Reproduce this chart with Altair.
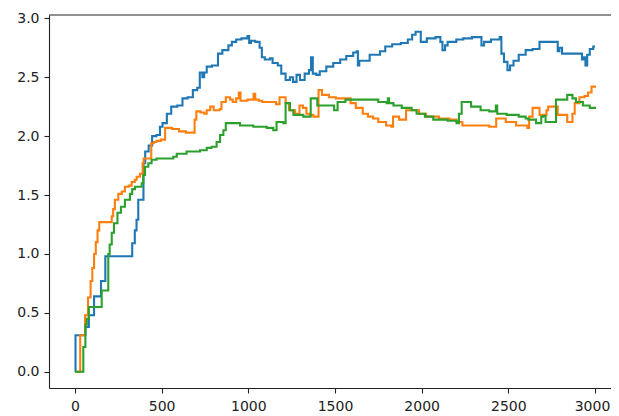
import altair as alt
import pandas as pd

# ---- data (step breakpoints) ----
blue_x = [0, 3, 60, 80, 110, 150, 175, 330, 345, 355, 365, 395, 405, 425, 445, 470, 490, 505, 530, 555, 590, 620, 650, 680, 705, 720, 735, 745, 760, 790, 825, 850, 885, 905, 930, 960, 995, 1005, 1015, 1040, 1065, 1078, 1095, 1125, 1140, 1170, 1190, 1215, 1240, 1258, 1278, 1298, 1325, 1350, 1362, 1372, 1392, 1412, 1450, 1490, 1530, 1565, 1605, 1625, 1632, 1640, 1680, 1700, 1760, 1790, 1830, 1880, 1920, 1945, 1965, 1995, 2030, 2080, 2108, 2120, 2135, 2150, 2200, 2240, 2290, 2340, 2345, 2360, 2400, 2450, 2460, 2475, 2495, 2510, 2530, 2560, 2600, 2640, 2680, 2775, 2785, 2795, 2810, 2915, 2925, 2935, 2945, 2955, 2970, 2990, 3000]
blue_y = [0.0, 0.31, 0.38, 0.48, 0.64, 0.77, 0.98, 1.09, 1.2, 1.29, 1.46, 1.77, 1.87, 1.92, 2.0, 2.01, 2.08, 2.11, 2.19, 2.25, 2.26, 2.32, 2.33, 2.39, 2.41, 2.54, 2.5, 2.54, 2.59, 2.6, 2.7, 2.73, 2.77, 2.8, 2.82, 2.83, 2.85, 2.79, 2.81, 2.8, 2.75, 2.67, 2.65, 2.66, 2.62, 2.6, 2.53, 2.476, 2.5, 2.46, 2.52, 2.476, 2.53, 2.56, 2.67, 2.53, 2.52, 2.55, 2.59, 2.62, 2.65, 2.68, 2.71, 2.72, 2.6, 2.64, 2.64, 2.69, 2.72, 2.76, 2.78, 2.79, 2.82, 2.86, 2.886, 2.8, 2.83, 2.84, 2.8, 2.73, 2.77, 2.8, 2.82, 2.83, 2.84, 2.84, 2.77, 2.8, 2.82, 2.84, 2.7, 2.63, 2.56, 2.6, 2.64, 2.69, 2.73, 2.74, 2.8, 2.8, 2.72, 2.75, 2.7, 2.7, 2.65, 2.67, 2.6, 2.69, 2.74, 2.76, 2.76]

orange_x = [0, 30, 58, 75, 90, 100, 110, 120, 130, 140, 212, 220, 230, 250, 270, 288, 310, 327, 345, 356, 375, 390, 396, 440, 455, 470, 495, 520, 560, 600, 640, 690, 700, 725, 745, 760, 780, 800, 835, 845, 870, 895, 910, 930, 945, 955, 975, 995, 1030, 1040, 1060, 1080, 1140, 1160, 1180, 1215, 1235, 1270, 1295, 1315, 1335, 1355, 1375, 1405, 1425, 1465, 1505, 1565, 1590, 1620, 1660, 1690, 1720, 1750, 1795, 1825, 1835, 1870, 1910, 1985, 2025, 2100, 2160, 2200, 2235, 2390, 2430, 2485, 2545, 2610, 2620, 2640, 2680, 2720, 2730, 2785, 2840, 2870, 2883, 2910, 2940, 2960, 2980, 3000]
orange_y = [0.0, 0.31, 0.48, 0.63, 0.77, 0.88, 1.0, 1.1, 1.2, 1.27, 1.32, 1.38, 1.46, 1.51, 1.53, 1.57, 1.58, 1.61, 1.63, 1.655, 1.68, 1.77, 1.81, 1.94, 1.95, 1.96, 1.97, 2.07, 2.06, 2.04, 2.03, 2.14, 2.21, 2.2, 2.19, 2.22, 2.25, 2.22, 2.23, 2.29, 2.33, 2.31, 2.29, 2.32, 2.37, 2.3, 2.3, 2.31, 2.36, 2.31, 2.3, 2.29, 2.29, 2.27, 2.33, 2.28, 2.22, 2.19, 2.26, 2.24, 2.19, 2.18, 2.165, 2.39, 2.35, 2.33, 2.32, 2.32, 2.28, 2.24, 2.19, 2.165, 2.15, 2.12, 2.09, 2.08, 2.165, 2.14, 2.22, 2.19, 2.165, 2.15, 2.14, 2.12, 2.09, 2.08, 2.15, 2.12, 2.09, 2.07, 2.165, 2.24, 2.18, 2.22, 2.25, 2.18, 2.12, 2.19, 2.28, 2.33, 2.34, 2.37, 2.42, 2.43]

green_x = [0, 48, 60, 68, 80, 154, 192, 200, 212, 225, 245, 265, 288, 317, 330, 346, 385, 394, 404, 423, 442, 470, 567, 587, 644, 721, 760, 788, 817, 837, 856, 870, 952, 1029, 1106, 1144, 1163, 1202, 1215, 1240, 1260, 1317, 1360, 1398, 1495, 1515, 1560, 1750, 1798, 1805, 1812, 1837, 1885, 1942, 1971, 2019, 2067, 2150, 2202, 2215, 2231, 2285, 2340, 2390, 2428, 2436, 2490, 2560, 2600, 2615, 2660, 2690, 2700, 2715, 2775, 2840, 2870, 2890, 2930, 2970, 3000]
green_y = [0.0, 0.21, 0.4, 0.45, 0.55, 0.69, 1.0, 1.08, 1.18, 1.26, 1.35, 1.4, 1.46, 1.51, 1.55, 1.57, 1.6, 1.67, 1.74, 1.77, 1.8, 1.81, 1.825, 1.85, 1.87, 1.88, 1.9, 1.91, 1.95, 2.01, 2.05, 2.11, 2.09, 2.08, 2.07, 2.05, 2.12, 2.11, 2.28, 2.22, 2.18, 2.165, 2.32, 2.26, 2.22, 2.29, 2.31, 2.29, 2.28, 2.32, 2.28, 2.26, 2.24, 2.22, 2.19, 2.165, 2.14, 2.13, 2.11, 2.19, 2.29, 2.25, 2.22, 2.21, 2.26, 2.19, 2.18, 2.165, 2.15, 2.14, 2.11, 2.165, 2.17, 2.12, 2.31, 2.35, 2.32, 2.29, 2.26, 2.24, 2.23]

x_ticks = [0, 500, 1000, 1500, 2000, 2500, 3000]
y_ticks = [0.0, 0.5, 1.0, 1.5, 2.0, 2.5, 3.0]

colors = {"blue": "#1f77b4", "orange": "#ff7f0e", "green": "#2ca02c"}

# plot area: 49..611 px horizontally (the reference's right spine lies off-canvas)
W, H = 562, 373
xs = alt.Scale(domain=[-150, 3092.4], nice=False, zero=False)
ys = alt.Scale(domain=[-0.138, 3.028], nice=False, zero=False)

font = "DejaVu Sans"
x_axis = alt.Axis(values=x_ticks, title=None, grid=False, labelFontSize=14, labelFont=font,
                  labelColor="#222", tickSize=5, tickWidth=1.1, tickColor="#222",
                  domainColor="#222", domainWidth=1.1, labelPadding=6, labelFlush=False,
                  format="d",
                  labelOffset=alt.ExprRef("datum.value == 3000 ? -3 : 0"))
y_axis = alt.Axis(values=y_ticks, title=None, grid=False, labelFontSize=14, labelFont=font,
                  labelColor="#222", tickSize=5, tickWidth=1.1, tickColor="#222",
                  domainColor="#222", domainWidth=1.1, labelPadding=5, format=".1f",
                  labelFlush=False)

def series(xv, yv, name):
    df = pd.DataFrame({"x": xv, "y": yv})
    return alt.Chart(df).mark_line(interpolate="step-after", strokeWidth=2.1,
                                   color=colors[name]).encode(
        x=alt.X("x:Q", scale=xs, axis=x_axis),
        y=alt.Y("y:Q", scale=ys, axis=y_axis))

top_spine = alt.Chart(pd.DataFrame({"a": [0]})).mark_rule(color="#222", strokeWidth=1.1).encode(
    x=alt.value(0), x2=alt.value(W), y=alt.value(0))

chart = alt.layer(
    series(blue_x, blue_y, "blue"),
    series(orange_x, orange_y, "orange"),
    series(green_x, green_y, "green"),
    top_spine,
).properties(
    width=W, height=H,
    autosize=alt.AutoSizeParams(type="none"),
    padding={"left": 41, "top": 7, "right": 0, "bottom": 28},
    background="white",
).configure_view(strokeWidth=0)

chart.save("out.html", embed_options={"renderer": "svg", "actions": False})
